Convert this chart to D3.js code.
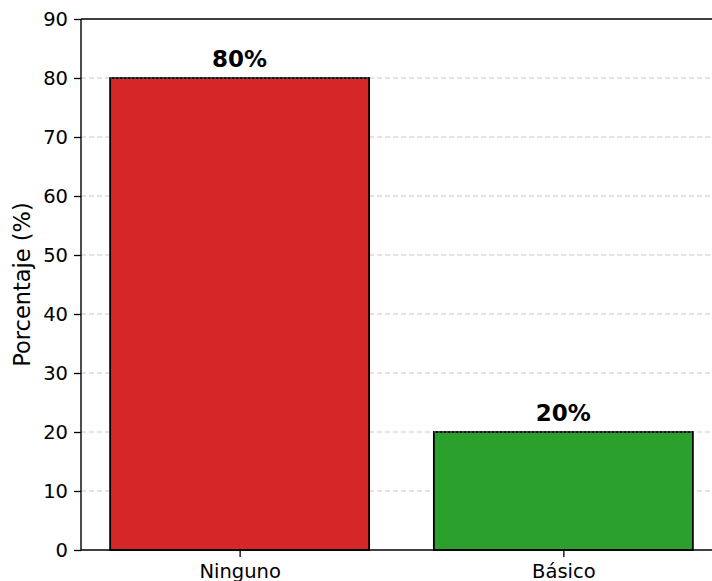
<!DOCTYPE html>
<html>
<head>
<meta charset="utf-8">
<script src="https://cdn.jsdelivr.net/npm/d3@7"></script>
<style>
  html, body { margin: 0; padding: 0; background: #fff; overflow: hidden; }
  svg { display: block; font-family: "DejaVu Sans", sans-serif; }
</style>
</head>
<body>
<svg id="chart" width="712" height="581"></svg>
<script>
// Share of respondents by level
const categories = ["Ninguno", "Básico"];
const values = [80, 20];
const colors = ["#d62728", "#2ca02c"];
const yTicks = [0, 10, 20, 30, 40, 50, 60, 70, 80, 90];

const svg = d3.select("#chart");
const plotLeft = 81, plotRight = 722, plotTop = 19, plotBottom = 550;

const x = d3.scaleLinear().domain([-0.49, 1.49]).range([plotLeft, plotRight]);
const y = d3.scaleLinear().domain([0, 90]).range([plotBottom, plotTop]);
const barW = x(0.4) - x(-0.4);

// dashed horizontal grid behind the bars
svg.append("g")
  .selectAll("line")
  .data(yTicks.filter(d => d > 0 && d < 90))
  .join("line")
  .attr("x1", plotLeft).attr("x2", plotRight)
  .attr("y1", d => y(d)).attr("y2", d => y(d))
  .attr("stroke", "#c8c8c8")
  .attr("stroke-width", 1.1)
  .attr("stroke-dasharray", "5,3");

// bars
const bars = svg.append("g")
  .selectAll("g")
  .data(categories.map((c, i) => ({ c, v: values[i], i })))
  .join("g");

bars.append("rect")
  .attr("x", d => x(d.i) - barW / 2)
  .attr("width", barW)
  .attr("y", d => y(d.v))
  .attr("height", d => y(0) - y(d.v))
  .attr("fill", d => colors[d.i])
  .attr("stroke", "#000")
  .attr("stroke-width", 1.8);

// grid passing over the bar tops
bars.append("line")
  .attr("x1", d => x(d.i) - barW / 2)
  .attr("x2", d => x(d.i) + barW / 2)
  .attr("y1", d => y(d.v)).attr("y2", d => y(d.v))
  .attr("stroke", "#777")
  .attr("stroke-width", 1.1)
  .attr("stroke-dasharray", "2,2");

// value labels
bars.append("text")
  .attr("x", d => x(d.i))
  .attr("y", d => y(d.v) - 11)
  .attr("text-anchor", "middle")
  .attr("font-size", 23)
  .attr("font-weight", "bold")
  .attr("fill", "#000")
  .text(d => d.v + "%");

// y axis
const yAxis = d3.axisLeft(y).tickValues(yTicks).tickSize(7).tickPadding(6);
const ga = svg.append("g").attr("transform", `translate(${plotLeft},0)`).call(yAxis);
ga.select(".domain").remove();
ga.selectAll(".tick line").attr("stroke", "#000").attr("stroke-width", 1.3);
ga.selectAll(".tick text").attr("font-size", 19.5).attr("fill", "#000")
  .attr("font-family", "DejaVu Sans, sans-serif");

// x axis
const xAxis = d3.axisBottom(x).tickValues([0, 1]).tickFormat(i => categories[i])
  .tickSize(7).tickPadding(7);
const gx = svg.append("g").attr("transform", `translate(0,${plotBottom})`).call(xAxis);
gx.select(".domain").remove();
gx.selectAll(".tick line").attr("stroke", "#000").attr("stroke-width", 1.3);
gx.selectAll(".tick text").attr("font-size", 19.5).attr("fill", "#000")
  .attr("font-family", "DejaVu Sans, sans-serif");

// spines
const spine = (x1, y1, x2, y2) => svg.append("line")
  .attr("x1", x1).attr("y1", y1).attr("x2", x2).attr("y2", y2)
  .attr("stroke", "#000").attr("stroke-width", 1.4);
spine(plotLeft, plotTop, plotLeft, plotBottom);
spine(plotLeft, plotBottom, plotRight, plotBottom);
spine(plotLeft, plotTop, plotRight, plotTop);
spine(plotRight, plotTop, plotRight, plotBottom);

// y axis title
svg.append("text")
  .attr("transform", `translate(30,${(plotTop + plotBottom) / 2}) rotate(-90)`)
  .attr("text-anchor", "middle")
  .attr("font-size", 22.5)
  .attr("fill", "#000")
  .text("Porcentaje (%)");
</script>
</body>
</html>
